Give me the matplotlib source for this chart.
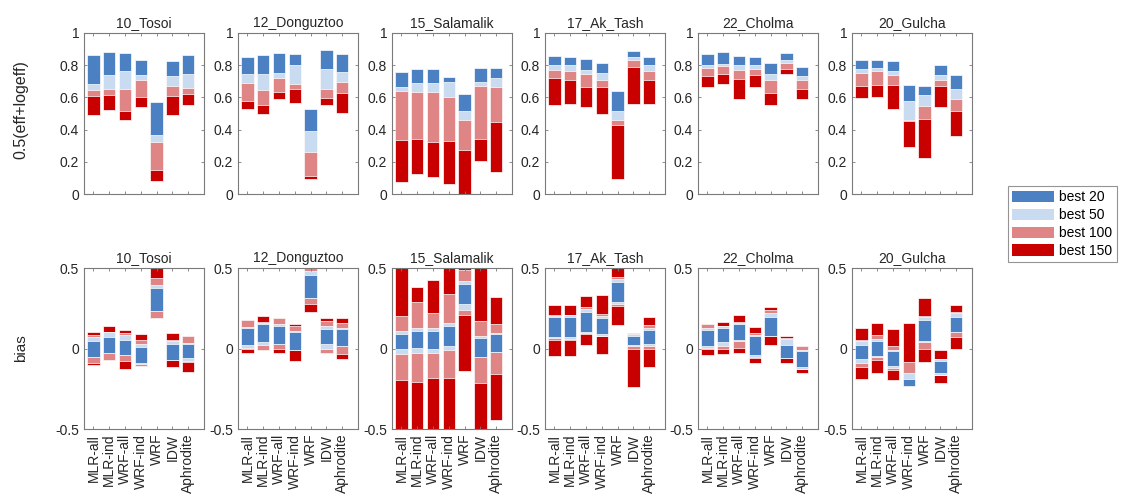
import matplotlib
matplotlib.use('Agg')
import matplotlib.pyplot as plt
from matplotlib.patches import Patch
import numpy as np

plt.rcParams['font.family'] = ['Liberation Sans', 'DejaVu Sans']

stations = ['10_Tosoi', '12_Donguztoo', '15_Salamalik', '17_Ak_Tash', '22_Cholma', '20_Gulcha']
methods = ['MLR-all', 'MLR-ind', 'WRF-all', 'WRF-ind', 'WRF', 'IDW', 'Aphrodite']
levels = ['best 20', 'best 50', 'best 100', 'best 150']
colors = ['#4b80c2', '#c8dbf0', '#e08585', '#c80000']

# ---- top row: 0.5(eff+logeff); ranges [min_k, max] for each best-k set ----
eff_max = {
    '10_Tosoi':     [0.865, 0.880, 0.876, 0.830, 0.573, 0.828, 0.865],
    '12_Donguztoo': [0.853, 0.865, 0.878, 0.870, 0.526, 0.892, 0.872],
    '15_Salamalik': [0.758, 0.778, 0.774, 0.729, 0.619, 0.783, 0.783],
    '17_Ak_Tash':   [0.859, 0.853, 0.836, 0.812, 0.640, 0.886, 0.853],
    '22_Cholma':    [0.870, 0.880, 0.859, 0.853, 0.812, 0.878, 0.787],
    '20_Gulcha':    [0.830, 0.834, 0.824, 0.677, 0.673, 0.803, 0.737],
}
eff_min20 = {
    '10_Tosoi':     [0.683, 0.741, 0.762, 0.737, 0.369, 0.735, 0.745],
    '12_Donguztoo': [0.747, 0.745, 0.749, 0.799, 0.391, 0.778, 0.756],
    '15_Salamalik': [0.665, 0.689, 0.687, 0.694, 0.516, 0.698, 0.720],
    '17_Ak_Tash':   [0.801, 0.799, 0.770, 0.754, 0.513, 0.851, 0.799],
    '22_Cholma':    [0.799, 0.807, 0.803, 0.799, 0.743, 0.832, 0.731],
    '20_Gulcha':    [0.774, 0.783, 0.762, 0.578, 0.613, 0.741, 0.654],
}
eff_min50 = {
    '10_Tosoi':     [0.646, 0.654, 0.652, 0.710, 0.325, 0.669, 0.658],
    '12_Donguztoo': [0.687, 0.648, 0.723, 0.683, 0.263, 0.652, 0.698],
    '15_Salamalik': [0.638, 0.634, 0.631, 0.602, 0.460, 0.669, 0.663],
    '17_Ak_Tash':   [0.770, 0.766, 0.745, 0.710, 0.458, 0.832, 0.766],
    '22_Cholma':    [0.781, 0.795, 0.770, 0.776, 0.706, 0.816, 0.706],
    '20_Gulcha':    [0.752, 0.764, 0.741, 0.458, 0.547, 0.710, 0.590],
}
eff_min100 = {
    '10_Tosoi':     [0.611, 0.617, 0.513, 0.602, 0.147, 0.609, 0.623],
    '12_Donguztoo': [0.580, 0.551, 0.634, 0.654, 0.114, 0.596, 0.627],
    '15_Salamalik': [0.335, 0.340, 0.325, 0.327, 0.273, 0.344, 0.445],
    '17_Ak_Tash':   [0.718, 0.708, 0.665, 0.663, 0.431, 0.791, 0.710],
    '22_Cholma':    [0.735, 0.747, 0.714, 0.739, 0.627, 0.778, 0.654],
    '20_Gulcha':    [0.673, 0.679, 0.675, 0.453, 0.464, 0.671, 0.518],
}
eff_min150 = {
    '10_Tosoi':     [0.489, 0.522, 0.458, 0.538, 0.079, 0.493, 0.553],
    '12_Donguztoo': [0.528, 0.497, 0.588, 0.563, 0.091, 0.555, 0.501],
    '15_Salamalik': [0.072, 0.124, 0.108, 0.062, 0.000, 0.203, 0.135],
    '17_Ak_Tash':   [0.551, 0.561, 0.540, 0.497, 0.093, 0.557, 0.559],
    '22_Cholma':    [0.663, 0.683, 0.588, 0.667, 0.553, 0.745, 0.588],
    '20_Gulcha':    [0.596, 0.600, 0.530, 0.292, 0.222, 0.540, 0.360],
}

# ---- bottom row: bias ranges [lo, hi] for each best-k set ----
bias_lo20 = {
    '10_Tosoi':     [-0.050, -0.031, -0.042, -0.088, 0.233, -0.071, -0.062],
    '12_Donguztoo': [0.021, 0.042, 0.029, -0.010, 0.315, 0.027, 0.017],
    '15_Salamalik': [-0.004, 0.006, 0.000, 0.017, 0.277, -0.052, -0.019],
    '17_Ak_Tash':   [0.069, 0.069, 0.100, 0.090, 0.288, 0.019, 0.027],
    '22_Cholma':    [0.017, 0.038, 0.052, -0.042, 0.075, -0.056, -0.113],
    '20_Gulcha':    [-0.067, -0.046, -0.108, -0.233, 0.044, -0.154, 0.104],
}
bias_hi20 = {
    '10_Tosoi':     [0.044, 0.071, 0.052, 0.008, 0.377, 0.027, 0.025],
    '12_Donguztoo': [0.129, 0.154, 0.142, 0.104, 0.458, 0.121, 0.121],
    '15_Salamalik': [0.088, 0.106, 0.106, 0.142, 0.402, 0.065, 0.090],
    '17_Ak_Tash':   [0.194, 0.194, 0.229, 0.188, 0.413, 0.079, 0.115],
    '22_Cholma':    [0.117, 0.125, 0.152, 0.075, 0.194, 0.021, -0.015],
    '20_Gulcha':    [0.023, 0.046, -0.015, -0.192, 0.179, -0.077, 0.194],
}
bias_lo50 = {
    '10_Tosoi':     [-0.050, -0.031, -0.042, -0.094, 0.233, -0.071, -0.079],
    '12_Donguztoo': [0.002, 0.021, 0.025, -0.010, 0.315, 0.000, 0.013],
    '15_Salamalik': [-0.035, -0.025, -0.025, -0.008, 0.240, -0.052, -0.021],
    '17_Ak_Tash':   [0.063, 0.060, 0.096, 0.079, 0.277, 0.017, 0.017],
    '22_Cholma':    [0.004, 0.017, 0.048, -0.050, 0.075, -0.058, -0.129],
    '20_Gulcha':    [-0.088, -0.050, -0.119, -0.233, 0.038, -0.167, 0.100],
}
bias_hi50 = {
    '10_Tosoi':     [0.069, 0.100, 0.085, 0.027, 0.392, 0.044, 0.035],
    '12_Donguztoo': [0.135, 0.158, 0.150, 0.110, 0.481, 0.142, 0.125],
    '15_Salamalik': [0.106, 0.125, 0.125, 0.158, 0.419, 0.075, 0.094],
    '17_Ak_Tash':   [0.204, 0.205, 0.246, 0.204, 0.429, 0.090, 0.125],
    '22_Cholma':    [0.127, 0.138, 0.158, 0.083, 0.221, 0.058, -0.008],
    '20_Gulcha':    [0.048, 0.058, -0.008, -0.150, 0.194, -0.067, 0.221],
}
bias_lo100 = {
    '10_Tosoi':     [-0.088, -0.071, -0.077, -0.108, 0.190, -0.071, -0.081],
    '12_Donguztoo': [0.000, -0.010, 0.000, -0.010, 0.277, -0.029, -0.035],
    '15_Salamalik': [-0.196, -0.206, -0.185, -0.185, 0.208, -0.217, -0.160],
    '17_Ak_Tash':   [0.054, 0.054, 0.090, 0.079, 0.263, 0.000, 0.000],
    '22_Cholma':    [0.000, 0.000, 0.006, -0.056, 0.075, -0.060, -0.129],
    '20_Gulcha':    [-0.113, -0.071, -0.133, -0.233, -0.004, -0.167, 0.069],
}
bias_hi100 = {
    '10_Tosoi':     [0.083, 0.104, 0.098, 0.054, 0.440, 0.054, 0.079],
    '12_Donguztoo': [0.179, 0.162, 0.188, 0.138, 0.505, 0.171, 0.156],
    '15_Salamalik': [0.204, 0.288, 0.221, 0.340, 0.485, 0.173, 0.152],
    '17_Ak_Tash':   [0.208, 0.210, 0.256, 0.215, 0.446, 0.094, 0.146],
    '22_Cholma':    [0.152, 0.142, 0.163, 0.094, 0.242, 0.063, 0.013],
    '20_Gulcha':    [0.052, 0.085, 0.017, -0.083, 0.200, -0.067, 0.225],
}
bias_lo150 = {
    '10_Tosoi':     [-0.104, -0.071, -0.129, -0.108, 0.190, -0.115, -0.146],
    '12_Donguztoo': [-0.029, -0.010, -0.025, -0.079, 0.225, -0.029, -0.067],
    '15_Salamalik': [-0.600, -0.600, -0.600, -0.600, -0.140, -0.600, -0.446],
    '17_Ak_Tash':   [-0.046, -0.046, 0.021, -0.035, 0.148, -0.238, -0.113],
    '22_Cholma':    [-0.042, -0.035, -0.025, -0.092, 0.023, -0.092, -0.154],
    '20_Gulcha':    [-0.192, -0.154, -0.196, -0.233, -0.081, -0.213, -0.004],
}
bias_hi150 = {
    '10_Tosoi':     [0.104, 0.142, 0.117, 0.092, 0.560, 0.096, 0.079],
    '12_Donguztoo': [0.179, 0.204, 0.188, 0.154, 0.505, 0.188, 0.188],
    '15_Salamalik': [0.600, 0.385, 0.427, 0.600, 0.600, 0.600, 0.319],
    '17_Ak_Tash':   [0.273, 0.273, 0.323, 0.335, 0.600, 0.094, 0.198],
    '22_Cholma':    [0.152, 0.163, 0.210, 0.135, 0.256, 0.079, 0.013],
    '20_Gulcha':    [0.125, 0.156, 0.121, 0.158, 0.315, -0.010, 0.273],
}

W, H = 1126, 498
fig = plt.figure(figsize=(W / 100, H / 100), dpi=100)

col_left = [84, 238, 392, 545, 698, 852]
ax_w = 120
top_row = (33, 194)
bot_row = (268, 429)
spine_col = '#7a7a7a'
text_col = '#262626'
bw = 0.78
x = np.arange(1, len(methods) + 1)


def style(ax):
    for s in ax.spines.values():
        s.set_color(spine_col)
        s.set_linewidth(0.8)
    ax.tick_params(direction='in', length=2.5, width=0.6, top=True, right=True,
                   colors=spine_col, labelcolor=text_col, labelsize=10)
    ax.set_xlim(0.4, 8.0)
    ax.set_xticks(x)


for i, st in enumerate(stations):
    # top row
    ax = fig.add_axes([col_left[i] / W, 1 - top_row[1] / H, ax_w / W, (top_row[1] - top_row[0]) / H])
    tops = np.array(eff_max[st])
    for lows, c in zip([eff_min150, eff_min100, eff_min50, eff_min20], colors[::-1]):
        lo = np.array(lows[st])
        ax.bar(x, tops - lo, bottom=lo, width=bw, color=c, edgecolor='white', linewidth=0.5)
    style(ax)
    ax.set_ylim(0, 1)
    ax.set_yticks([0, 0.2, 0.4, 0.6, 0.8, 1])
    ax.set_yticklabels(['0', '0.2', '0.4', '0.6', '0.8', '1'])
    ax.set_xticklabels([])
    ax.set_title(st, fontsize=10, color=text_col, pad=4)

    # bottom row
    ax = fig.add_axes([col_left[i] / W, 1 - bot_row[1] / H, ax_w / W, (bot_row[1] - bot_row[0]) / H])
    for los, his, c in zip([bias_lo150, bias_lo100, bias_lo50, bias_lo20],
                           [bias_hi150, bias_hi100, bias_hi50, bias_hi20], colors[::-1]):
        lo = np.array(los[st])
        hi = np.array(his[st])
        ax.bar(x, hi - lo, bottom=lo, width=bw, color=c, edgecolor='white', linewidth=0.5)
    style(ax)
    ax.set_ylim(-0.5, 0.5)
    ax.set_yticks([-0.5, 0, 0.5])
    ax.set_yticklabels(['-0.5', '0', '0.5'])
    ax.set_xticklabels(methods, rotation=90)
    ax.set_title(st, fontsize=10, color=text_col, pad=4)

fig.text(21 / W, 1 - 110 / H, '0.5(eff+logeff)', rotation=90, ha='center', va='center',
         fontsize=11.5, color=text_col)
fig.text(21 / W, 1 - 348 / H, 'bias', rotation=90, ha='center', va='center',
         fontsize=11, color=text_col)

handles = [Patch(facecolor=c, edgecolor='none') for c in colors]
leg = fig.legend(handles, levels, loc='upper left', bbox_to_anchor=(1008 / W, 1 - 186 / H),
                 fontsize=10, handlelength=3.0, handleheight=0.85, labelspacing=0.28,
                 handletextpad=0.4, borderpad=0.3, borderaxespad=0, frameon=True,
                 fancybox=False)
leg.get_frame().set_edgecolor(spine_col)
leg.get_frame().set_linewidth(0.8)

fig.savefig('out.png', dpi=100)
